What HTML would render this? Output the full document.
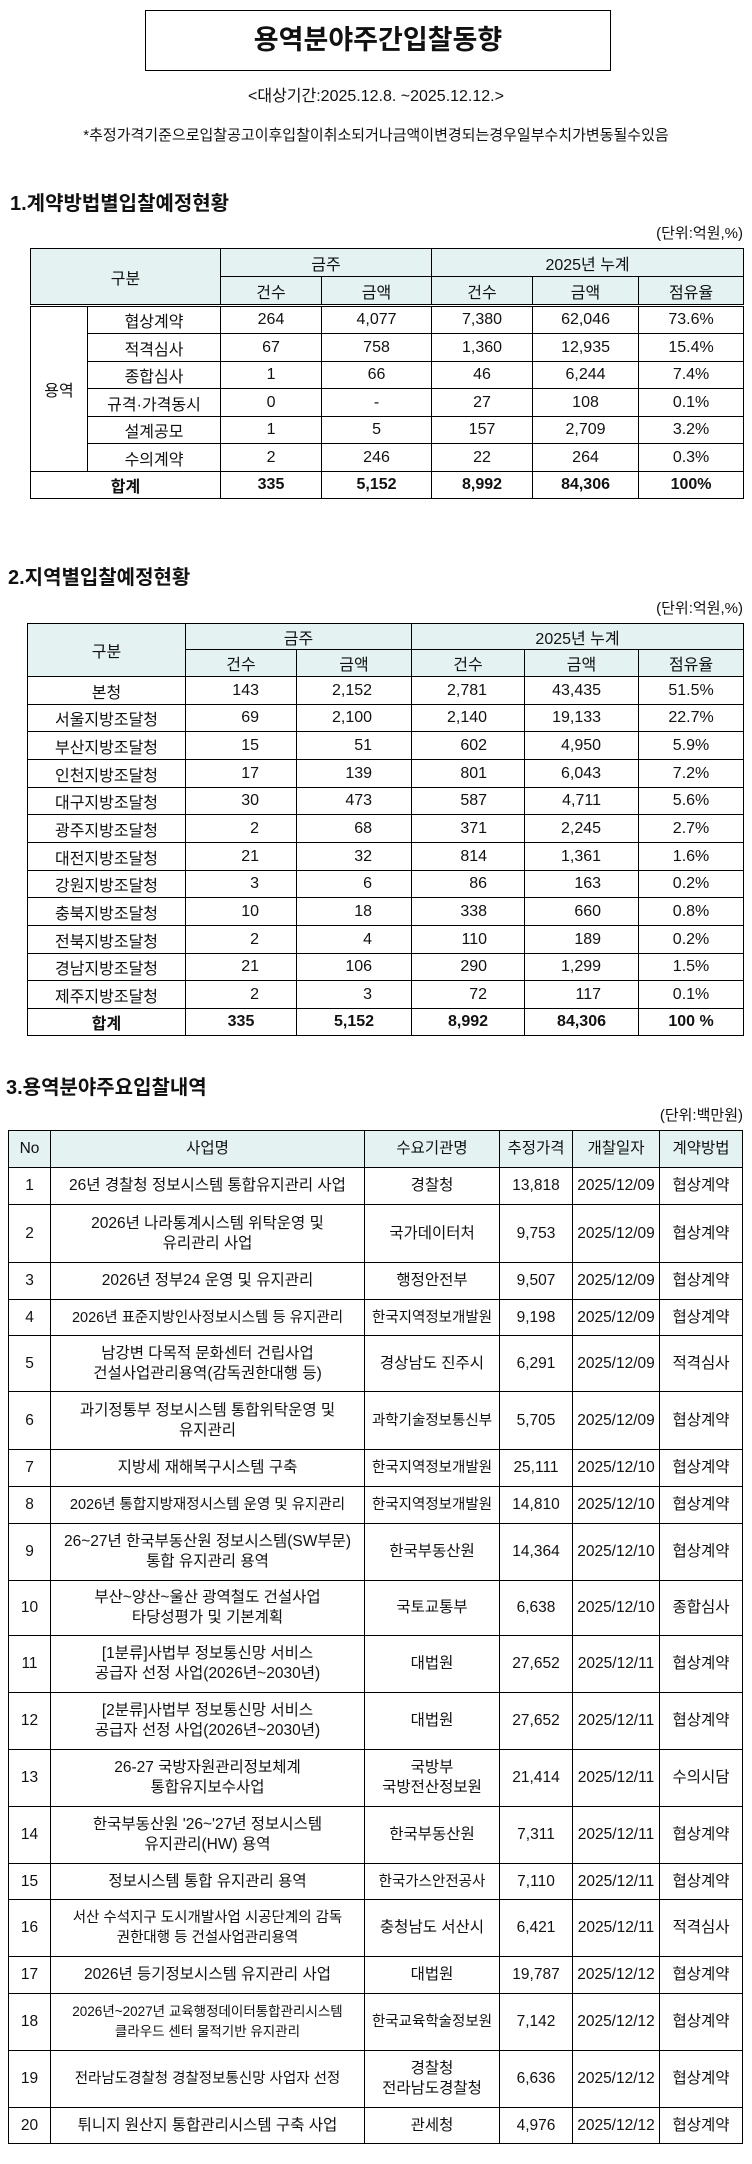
<!DOCTYPE html>
<html><head><meta charset="utf-8">
<style>
*{margin:0;padding:0;box-sizing:border-box}
body{width:752px;height:2164px;background:#fff;position:relative;font-family:"Liberation Sans Narrow","Liberation Sans","Noto Sans CJK KR",sans-serif;color:#111;overflow:hidden}
.abs{position:absolute}
.title{left:145px;top:10px;width:466px;height:61px;border:1.5px solid #000;text-align:center;line-height:58px;font-size:27px;font-weight:bold;font-family:"Liberation Sans","Noto Sans CJK KR",sans-serif}
.c{text-align:center;width:752px;left:0}
h2{position:absolute;font-size:20px;font-weight:bold;font-family:"Liberation Sans","Noto Sans CJK KR",sans-serif}
.unit{right:9px;font-size:15px}
table{position:absolute;border-collapse:collapse;table-layout:fixed}
td{border:1.3px solid #000;text-align:center;white-space:nowrap;overflow:hidden;padding:0}
.hd td{background:#e4f2f2}
.t1 td{font-size:16px}
.t2 td{font-size:16px}
.t3 td{font-size:15.5px;line-height:20px}
.t3 td.s{font-size:14.5px}
.r{text-align:right}
b{font-weight:bold}
</style></head><body>
<div class="abs title">용역분야주간입찰동향</div>
<div class="abs c" style="top:82px;font-size:16px">&lt;대상기간:2025.12.8. ~2025.12.12.&gt;</div>
<div class="abs c" style="top:124px;font-size:15px">*추정가격기준으로입찰공고이후입찰이취소되거나금액이변경되는경우일부수치가변동될수있음</div>

<h2 style="left:10px;top:187px">1.계약방법별입찰예정현황</h2>
<div class="abs unit" style="top:222px">(단위:억원,%)</div>
<table class="t1" style="left:30px;top:248px;width:713px">
<colgroup><col style="width:57px"><col style="width:133px"><col style="width:101px"><col style="width:110px"><col style="width:101px"><col style="width:106px"><col style="width:105px"></colgroup>
<tr class="hd" style="height:28px"><td colspan="2" rowspan="2" style="border-bottom:3px double #000">구분</td><td colspan="2">금주</td><td colspan="3">2025년 누계</td></tr>
<tr class="hd" style="height:29px"><td style="border-bottom:3px double #000">건수</td><td style="border-bottom:3px double #000">금액</td><td style="border-bottom:3px double #000">건수</td><td style="border-bottom:3px double #000">금액</td><td style="border-bottom:3px double #000">점유율</td></tr>
<tr style="height:28px"><td rowspan="6">용역</td><td>협상계약</td><td>264</td><td>4,077</td><td>7,380</td><td>62,046</td><td>73.6%</td></tr>
<tr style="height:28px"><td>적격심사</td><td>67</td><td>758</td><td>1,360</td><td>12,935</td><td>15.4%</td></tr>
<tr style="height:27px"><td>종합심사</td><td>1</td><td>66</td><td>46</td><td>6,244</td><td>7.4%</td></tr>
<tr style="height:28px"><td>규격·가격동시</td><td>0</td><td>-</td><td>27</td><td>108</td><td>0.1%</td></tr>
<tr style="height:27px"><td>설계공모</td><td>1</td><td>5</td><td>157</td><td>2,709</td><td>3.2%</td></tr>
<tr style="height:28px"><td>수의계약</td><td>2</td><td>246</td><td>22</td><td>264</td><td>0.3%</td></tr>
<tr style="height:27px"><td colspan="2"><b>합계</b></td><td><b>335</b></td><td><b>5,152</b></td><td><b>8,992</b></td><td><b>84,306</b></td><td><b>100%</b></td></tr>
</table>

<h2 style="left:8px;top:561px">2.지역별입찰예정현황</h2>
<div class="abs unit" style="top:597px">(단위:억원,%)</div>
<table class="t2" style="left:27px;top:623px;width:716px">
<colgroup><col style="width:158px"><col style="width:111px"><col style="width:115px"><col style="width:113px"><col style="width:114px"><col style="width:105px"></colgroup>
<tr class="hd" style="height:26px"><td rowspan="2">구분</td><td colspan="2">금주</td><td colspan="3">2025년 누계</td></tr>
<tr class="hd" style="height:27px"><td>건수</td><td>금액</td><td>건수</td><td>금액</td><td>점유율</td></tr>
<tr style="height:28px"><td>본청</td><td class="r" style="padding-right:37px">143</td><td class="r" style="padding-right:39px">2,152</td><td class="r" style="padding-right:37px">2,781</td><td class="r" style="padding-right:37px">43,435</td><td>51.5%</td></tr>
<tr style="height:27px"><td>서울지방조달청</td><td class="r" style="padding-right:37px">69</td><td class="r" style="padding-right:39px">2,100</td><td class="r" style="padding-right:37px">2,140</td><td class="r" style="padding-right:37px">19,133</td><td>22.7%</td></tr>
<tr style="height:28px"><td>부산지방조달청</td><td class="r" style="padding-right:37px">15</td><td class="r" style="padding-right:39px">51</td><td class="r" style="padding-right:37px">602</td><td class="r" style="padding-right:37px">4,950</td><td>5.9%</td></tr>
<tr style="height:28px"><td>인천지방조달청</td><td class="r" style="padding-right:37px">17</td><td class="r" style="padding-right:39px">139</td><td class="r" style="padding-right:37px">801</td><td class="r" style="padding-right:37px">6,043</td><td>7.2%</td></tr>
<tr style="height:27px"><td>대구지방조달청</td><td class="r" style="padding-right:37px">30</td><td class="r" style="padding-right:39px">473</td><td class="r" style="padding-right:37px">587</td><td class="r" style="padding-right:37px">4,711</td><td>5.6%</td></tr>
<tr style="height:28px"><td>광주지방조달청</td><td class="r" style="padding-right:37px">2</td><td class="r" style="padding-right:39px">68</td><td class="r" style="padding-right:37px">371</td><td class="r" style="padding-right:37px">2,245</td><td>2.7%</td></tr>
<tr style="height:28px"><td>대전지방조달청</td><td class="r" style="padding-right:37px">21</td><td class="r" style="padding-right:39px">32</td><td class="r" style="padding-right:37px">814</td><td class="r" style="padding-right:37px">1,361</td><td>1.6%</td></tr>
<tr style="height:27px"><td>강원지방조달청</td><td class="r" style="padding-right:37px">3</td><td class="r" style="padding-right:39px">6</td><td class="r" style="padding-right:37px">86</td><td class="r" style="padding-right:37px">163</td><td>0.2%</td></tr>
<tr style="height:28px"><td>충북지방조달청</td><td class="r" style="padding-right:37px">10</td><td class="r" style="padding-right:39px">18</td><td class="r" style="padding-right:37px">338</td><td class="r" style="padding-right:37px">660</td><td>0.8%</td></tr>
<tr style="height:28px"><td>전북지방조달청</td><td class="r" style="padding-right:37px">2</td><td class="r" style="padding-right:39px">4</td><td class="r" style="padding-right:37px">110</td><td class="r" style="padding-right:37px">189</td><td>0.2%</td></tr>
<tr style="height:27px"><td>경남지방조달청</td><td class="r" style="padding-right:37px">21</td><td class="r" style="padding-right:39px">106</td><td class="r" style="padding-right:37px">290</td><td class="r" style="padding-right:37px">1,299</td><td>1.5%</td></tr>
<tr style="height:28px"><td>제주지방조달청</td><td class="r" style="padding-right:37px">2</td><td class="r" style="padding-right:39px">3</td><td class="r" style="padding-right:37px">72</td><td class="r" style="padding-right:37px">117</td><td>0.1%</td></tr>
<tr style="height:27px"><td><b>합계</b></td><td><b>335</b></td><td><b>5,152</b></td><td><b>8,992</b></td><td><b>84,306</b></td><td><b>100 %</b></td></tr>
</table>

<h2 style="left:6px;top:1071px">3.용역분야주요입찰내역</h2>
<div class="abs unit" style="top:1104px">(단위:백만원)</div>
<table class="t3" style="left:8px;top:1130px;width:734px">
<colgroup><col style="width:42px"><col style="width:314px"><col style="width:135px"><col style="width:73px"><col style="width:87px"><col style="width:83px"></colgroup>
<tr class="hd" style="height:37px"><td>No</td><td>사업명</td><td>수요기관명</td><td>추정가격</td><td>개찰일자</td><td>계약방법</td></tr>
<tr style="height:37px"><td>1</td><td>26년 경찰청 정보시스템 통합유지관리 사업</td><td>경찰청</td><td>13,818</td><td>2025/12/09</td><td>협상계약</td></tr>
<tr style="height:58px"><td>2</td><td>2026년 나라통계시스템 위탁운영 및<br>유리관리 사업</td><td>국가데이터처</td><td>9,753</td><td>2025/12/09</td><td>협상계약</td></tr>
<tr style="height:37px"><td>3</td><td>2026년 정부24 운영 및 유지관리</td><td>행정안전부</td><td>9,507</td><td>2025/12/09</td><td>협상계약</td></tr>
<tr style="height:36px"><td>4</td><td class="s">2026년 표준지방인사정보시스템 등 유지관리</td><td class="s">한국지역정보개발원</td><td>9,198</td><td>2025/12/09</td><td>협상계약</td></tr>
<tr style="height:56px"><td>5</td><td>남강변 다목적 문화센터 건립사업<br>건설사업관리용역(감독권한대행 등)</td><td>경상남도 진주시</td><td>6,291</td><td>2025/12/09</td><td>적격심사</td></tr>
<tr style="height:58px"><td>6</td><td>과기정통부 정보시스템 통합위탁운영 및<br>유지관리</td><td class="s">과학기술정보통신부</td><td>5,705</td><td>2025/12/09</td><td>협상계약</td></tr>
<tr style="height:37px"><td>7</td><td>지방세 재해복구시스템 구축</td><td class="s">한국지역정보개발원</td><td>25,111</td><td>2025/12/10</td><td>협상계약</td></tr>
<tr style="height:37px"><td>8</td><td class="s">2026년 통합지방재정시스템 운영 및 유지관리</td><td class="s">한국지역정보개발원</td><td>14,810</td><td>2025/12/10</td><td>협상계약</td></tr>
<tr style="height:57px"><td>9</td><td>26~27년 한국부동산원 정보시스템(SW부문)<br>통합 유지관리 용역</td><td>한국부동산원</td><td>14,364</td><td>2025/12/10</td><td>협상계약</td></tr>
<tr style="height:55px"><td>10</td><td>부산~양산~울산 광역철도 건설사업<br>타당성평가 및 기본계획</td><td>국토교통부</td><td>6,638</td><td>2025/12/10</td><td>종합심사</td></tr>
<tr style="height:57px"><td>11</td><td>[1분류]사법부 정보통신망 서비스<br>공급자 선정 사업(2026년~2030년)</td><td>대법원</td><td>27,652</td><td>2025/12/11</td><td>협상계약</td></tr>
<tr style="height:57px"><td>12</td><td>[2분류]사법부 정보통신망 서비스<br>공급자 선정 사업(2026년~2030년)</td><td>대법원</td><td>27,652</td><td>2025/12/11</td><td>협상계약</td></tr>
<tr style="height:57px"><td>13</td><td>26-27 국방자원관리정보체계<br>통합유지보수사업</td><td>국방부<br>국방전산정보원</td><td>21,414</td><td>2025/12/11</td><td>수의시담</td></tr>
<tr style="height:57px"><td>14</td><td>한국부동산원 '26~'27년 정보시스템<br>유지관리(HW) 용역</td><td>한국부동산원</td><td>7,311</td><td>2025/12/11</td><td>협상계약</td></tr>
<tr style="height:36px"><td>15</td><td>정보시스템 통합 유지관리 용역</td><td class="s">한국가스안전공사</td><td>7,110</td><td>2025/12/11</td><td>협상계약</td></tr>
<tr style="height:57px"><td>16</td><td class="s">서산 수석지구 도시개발사업 시공단계의 감독<br>권한대행 등 건설사업관리용역</td><td>충청남도 서산시</td><td>6,421</td><td>2025/12/11</td><td>적격심사</td></tr>
<tr style="height:37px"><td>17</td><td>2026년 등기정보시스템 유지관리 사업</td><td>대법원</td><td>19,787</td><td>2025/12/12</td><td>협상계약</td></tr>
<tr style="height:57px"><td>18</td><td class="s" style="font-size:13.5px">2026년~2027년 교육행정데이터통합관리시스템<br>클라우드 센터 물적기반 유지관리</td><td class="s">한국교육학술정보원</td><td>7,142</td><td>2025/12/12</td><td>협상계약</td></tr>
<tr style="height:57px"><td>19</td><td class="s">전라남도경찰청 경찰정보통신망 사업자 선정</td><td>경찰청<br>전라남도경찰청</td><td>6,636</td><td>2025/12/12</td><td>협상계약</td></tr>
<tr style="height:36px"><td>20</td><td>튀니지 원산지 통합관리시스템 구축 사업</td><td>관세청</td><td>4,976</td><td>2025/12/12</td><td>협상계약</td></tr>
</table>
</body></html>
